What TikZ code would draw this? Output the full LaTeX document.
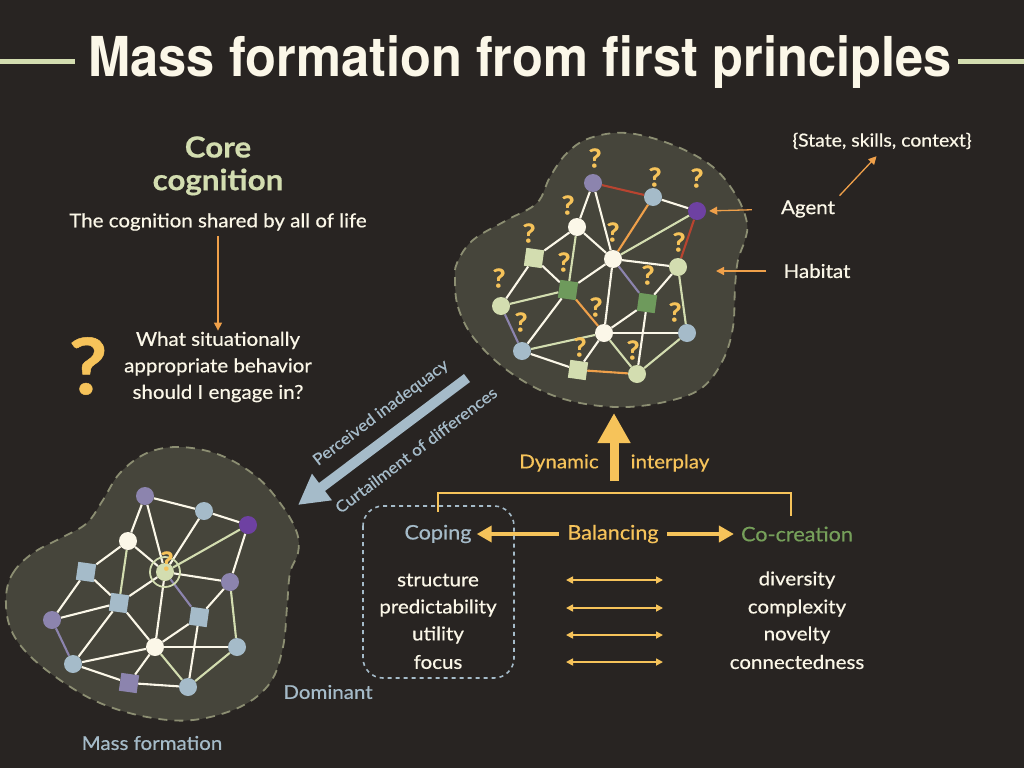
\documentclass[tikz,border=0pt]{standalone}
\usepackage{fontspec}
\setmainfont[FakeStretch=1.08, FakeBold=0.6]{Lato}
\newfontfamily\titlefont[FakeStretch=0.92]{TeX Gyre Heros}
\usetikzlibrary{arrows.meta}
\definecolor{bgdark}{HTML}{282422}
\definecolor{blobfill}{HTML}{46453B}
\definecolor{blobedge}{HTML}{8C8E72}
\definecolor{cream}{HTML}{FBF7E8}
\definecolor{sage}{HTML}{D3DDB0}
\definecolor{leaf}{HTML}{6E9A5C}
\definecolor{steel}{HTML}{A5BBC9}
\definecolor{lilac}{HTML}{8C84AE}
\definecolor{violet}{HTML}{6E41A2}
\definecolor{rust}{HTML}{B84430}
\definecolor{amber}{HTML}{EFA04A}
\definecolor{gold}{HTML}{F6C35A}
\definecolor{cocreate}{HTML}{76A05A}
\pgfdeclarelayer{back}
\pgfdeclarelayer{links}
\pgfsetlayers{back,links,main}
\tikzset{
  blob/.style={fill=blobfill, draw=blobedge, line width=1.8pt, dash pattern=on 9pt off 7pt},
  link/.style={line width=2.1pt, draw=cream},
  sagelink/.style={line width=2.1pt, draw=sage},
  rustlink/.style={line width=2.1pt, draw=rust},
  amberlink/.style={line width=2.1pt, draw=amber},
  lilaclink/.style={line width=2.1pt, draw=lilac},
  dot/.style={circle, minimum size=18pt, inner sep=0pt},
  sqnode/.style={rectangle, minimum size=18pt, inner sep=0pt, rotate=-8},
  qmark/.style={text=gold, font=\fontsize{26}{26}\selectfont\bfseries},
  txt/.style={text=cream, font=\fontsize{19}{22}\selectfont},
  pointer/.style={draw=amber, line width=1.3pt, -{Triangle[length=8pt,width=8pt]}},
  twoway/.style={draw=gold, line width=1.6pt, {Triangle[length=7pt,width=7pt]}-{Triangle[length=7pt,width=7pt]}},
  fatarrow/.style={line width=10pt, -{Triangle[length=30pt,width=31pt]}},
}

\begin{document}
\begin{tikzpicture}[x=1pt, y=-1pt, inner sep=1pt]
        % Canvas
        \begin{pgfonlayer}{back}
        \fill[bgdark] (0,0) rectangle (1024,768);
        \end{pgfonlayer}
        \useasboundingbox (0,0) rectangle (1024,768);

        % Title
        \node[text=cream, font=\titlefont\bfseries\fontsize{55}{60}\selectfont] (title) at (520,62) {Mass formation from first principles};
        \coordinate (barL1) at (0,61);
        \coordinate (barL2) at (75,61);
        \coordinate (barR1) at (958,61);
        \coordinate (barR2) at (1024,61);
        \draw[sage, line width=5pt] (barL1) -- (barL2);
        \draw[sage, line width=5pt] (barR1) -- (barR2);

        % Core cognition
        \node[text=sage, font=\fontsize{29}{30}\selectfont\bfseries] (core) at (218,147) {Core};
        \node[text=sage, font=\fontsize{29}{30}\selectfont\bfseries] (cognition) at (218,182) {cognition};
        \node[txt] (shared) at (218,222) {The cognition shared by all of life};
        \node[txt, align=center, font=\fontsize{19}{26.5}\selectfont] (question) at (218,367) {What situationally\\appropriate behavior\\should I engage in?};
        \node[text=gold, font=\fontsize{78}{80}\selectfont\bfseries] (bigq) at (88,366) {?};
        \draw[pointer] (shared.south) ++(0,4) -- (question.north);

        % Habitat blob (top right)
        \begin{pgfonlayer}{back}
        \draw[blob] plot[smooth cycle, tension=0.6] coordinates {(455,280) (458,307) (473,337) (503,367) (540,390) (580,403) (627,407) (673,400) (703,387) (723,360) (733,327) (735,287) (738,260) (745,240) (747,223) (737,197) (713,167) (673,145) (627,133) (590,138) (567,153) (550,177) (537,203) (507,220) (473,240) (457,263)};
        \end{pgfonlayer}

        % Agents (top right)
        \node[dot, fill=lilac] (tp1) at (593,183) {};
        \node[dot, fill=steel] (tb1) at (653,197) {};
        \node[dot, fill=violet] (ta) at (697,211) {};
        \node[dot, fill=cream] (tw1) at (577,227) {};
        \node[dot, fill=cream] (tw2) at (613,259) {};
        \node[dot, fill=sage] (tg1) at (678,267) {};
        \node[sqnode, fill=sage] (ts1) at (534,258) {};
        \node[sqnode, fill=leaf] (ts2) at (568,290) {};
        \node[sqnode, fill=leaf] (ts3) at (647,303) {};
        \node[dot, fill=sage] (tg2) at (501,306) {};
        \node[dot, fill=steel] (tb2) at (522,351) {};
        \node[dot, fill=cream] (tw3) at (604,333) {};
        \node[dot, fill=steel] (tb3) at (687,333) {};
        \node[sqnode, fill=sage] (ts4) at (578,370) {};
        \node[dot, fill=sage] (tg3) at (637,374) {};

        % Question marks
        \foreach \qx/\qy [count=\qi] in {595/158, 655/177, 697/178, 568/205, 613/232, 529/233, 564/262, 499/278, 679/242, 648/275, 596/307, 675/312, 521/322, 580/347, 633/350}
          \node[qmark] (tq\qi) at (\qx,\qy) {?};

        % Draw the links (top right)
        \begin{pgfonlayer}{links}
        \draw[rustlink] (tp1) -- (tb1);
        \draw[link] (tb1) -- (ta);
        \draw[link] (tp1) -- (tw1);
        \draw[link] (tp1) -- (tw2);
        \draw[amberlink] (tb1) -- (tw2);
        \draw[sagelink] (ta) -- (tw2);
        \draw[rustlink] (ta) -- (tg1);
        \draw[link] (tw1) -- (tw2);
        \draw[link] (tw1) -- (ts1);
        \draw[sagelink] (tw1) -- (ts2);
        \draw[link] (ts1) -- (ts2);
        \draw[link] (ts1) -- (tg2);
        \draw[link] (tw2) -- (ts2);
        \draw[link] (tw2) -- (tg1);
        \draw[lilaclink] (tw2) -- (ts3);
        \draw[link] (tw2) -- (tw3);
        \draw[sagelink] (ts2) -- (tg2);
        \draw[link] (ts2) -- (tb2);
        \draw[amberlink] (ts2) -- (tw3);
        \draw[link] (tg1) -- (ts3);
        \draw[sagelink] (tg1) -- (tb3);
        \draw[link] (ts3) -- (tw3);
        \draw[link] (ts3) -- (tg3);
        \draw[lilaclink] (tg2) -- (tb2);
        \draw[sagelink] (tb2) -- (tw3);
        \draw[link] (tb2) -- (ts4);
        \draw[link] (tw3) -- (ts4);
        \draw[link] (tw3) -- (tb3);
        \draw[sagelink] (tw3) -- (tg3);
        \draw[amberlink] (ts4) -- (tg3);
        \draw[sagelink] (tg3) -- (tb3);
        \end{pgfonlayer}

        % Agent and habitat labels
        \node[txt] (agent) at (808,209) {Agent};
        \node[txt] (habitat) at (817,271) {Habitat};
        \node[txt, font=\fontsize{18}{20}\selectfont] (state) at (882,141) {\{State, skills, context\}};
        \coordinate (habspot) at (716,271);
        \draw[pointer, shorten <=28pt, shorten >=3pt] (agent.west) -- (ta.east);
        \draw[pointer, shorten <=16pt] (habitat.west) -- (habspot);
        \draw[pointer, shorten <=5pt, shorten >=8pt] (agent.north east) -- (state.south);

        % Mass formation blob (bottom left)
        \begin{pgfonlayer}{back}
        \draw[blob] plot[smooth cycle, tension=0.6] coordinates {(6,597) (13,573) (33,553) (63,537) (87,523) (103,500) (120,473) (147,453) (180,447) (220,455) (257,477) (283,507) (297,533) (298,553) (290,573) (287,607) (283,647) (270,683) (240,707) (193,720) (147,717) (100,703) (60,680) (27,653) (10,627)};
        \end{pgfonlayer}

        % Agents (bottom left)
        \node[dot, fill=lilac] (bp1) at (145,496) {};
        \node[dot, fill=steel] (bb1) at (204,511) {};
        \node[dot, fill=violet] (ba) at (248,525) {};
        \node[dot, fill=cream] (bw1) at (128,541) {};
        \node[dot, fill=sage, minimum size=18pt] (bc) at (165,572) {};
        \node[circle, draw=sage, line width=1.8pt, minimum size=30pt] (ring) at (bc) {};
        \node[dot, fill=lilac] (bp2) at (230,582) {};
        \node[sqnode, fill=steel] (bs1) at (86,572) {};
        \node[sqnode, fill=steel] (bs2) at (119,603) {};
        \node[sqnode, fill=steel] (bs3) at (199,617) {};
        \node[dot, fill=lilac] (bp3) at (52,620) {};
        \node[dot, fill=steel] (bb2) at (73,664) {};
        \node[dot, fill=cream] (bw3) at (155,647) {};
        \node[dot, fill=steel] (bb3) at (237,647) {};
        \node[sqnode, fill=lilac] (bs4) at (129,683) {};
        \node[dot, fill=steel] (bb4) at (188,687) {};
        \node[qmark] (bq) at (167,561) {?};

        % Draw the links (bottom left)
        \begin{pgfonlayer}{links}
        \draw[link] (bp1) -- (bb1);
        \draw[link] (bb1) -- (ba);
        \draw[link] (bp1) -- (bw1);
        \draw[link] (bp1) -- (bc);
        \draw[link] (bb1) -- (bc);
        \draw[sagelink] (ba) -- (bc);
        \draw[link] (ba) -- (bp2);
        \draw[link] (bw1) -- (bc);
        \draw[link] (bw1) -- (bs1);
        \draw[sagelink] (bw1) -- (bs2);
        \draw[link] (bs1) -- (bs2);
        \draw[link] (bs1) -- (bp3);
        \draw[link] (bc) -- (bs2);
        \draw[link] (bc) -- (bp2);
        \draw[lilaclink] (bc) -- (bs3);
        \draw[link] (bc) -- (bw3);
        \draw[link] (bs2) -- (bp3);
        \draw[link] (bs2) -- (bb2);
        \draw[link] (bs2) -- (bw3);
        \draw[link] (bp2) -- (bs3);
        \draw[sagelink] (bp2) -- (bb3);
        \draw[link] (bs3) -- (bw3);
        \draw[link] (bs3) -- (bb4);
        \draw[lilaclink] (bp3) -- (bb2);
        \draw[link] (bb2) -- (bw3);
        \draw[link] (bb2) -- (bs4);
        \draw[link] (bw3) -- (bs4);
        \draw[link] (bw3) -- (bb3);
        \draw[sagelink] (bw3) -- (bb4);
        \draw[link] (bs4) -- (bb4);
        \draw[sagelink] (bb4) -- (bb3);
        \end{pgfonlayer}

        \node[text=steel, font=\fontsize{19}{22}\selectfont] (massform) at (152,743) {Mass formation};
        \node[text=steel, font=\fontsize{19}{22}\selectfont] (dominant) at (328,692) {Dominant};

        % Curtailment arrow
        \coordinate (curtailtail) at (467,378);
        \coordinate (curtailtip) at (298,505);
        \draw[fatarrow, steel] (curtailtail) -- (curtailtip);
        \node[text=steel, rotate=37, font=\fontsize{16}{18}\selectfont] (inadequacy) at (381,413) {Perceived inadequacy};
        \node[text=steel, rotate=37, font=\fontsize{16}{18}\selectfont] (curtail) at (416,450) {Curtailment of differences};

        % Dynamic interplay
        \coordinate (interbase) at (614,481);
        \coordinate (intertip) at (614,413);
        \draw[fatarrow, gold, line width=9pt] (interbase) -- (intertip);
        \node[text=gold, font=\fontsize{19}{22}\selectfont] (dynamic) at (559,463) {Dynamic};
        \node[text=gold, font=\fontsize{19}{22}\selectfont] (interplay) at (670,463) {interplay};

        % Balancing
        \node[text=steel, font=\fontsize{20}{22}\selectfont] (coping) at (438,534) {Coping};
        \node[text=gold, font=\fontsize{20}{22}\selectfont] (balancing) at (613,534) {Balancing};
        \node[text=cocreate, font=\fontsize{20}{22}\selectfont] (cocreation) at (797,534) {Co-creation};
        \draw[gold, line width=2pt] (438,512) -- (438,493) -- (791,493) -- (791,516);
        \draw[gold, line width=4pt, -{Triangle[length=15pt,width=16pt]}, shorten <=7pt, shorten >=4pt] (balancing.west) -- (coping.east);
        \draw[gold, line width=4pt, -{Triangle[length=15pt,width=16pt]}, shorten <=7pt, shorten >=6pt] (balancing.east) -- (cocreation.west);

        % Coping frame
        \draw[steel, line width=1.6pt, dash pattern=on 4pt off 4pt, rounded corners=20pt] (363,506) rectangle (514,678);

        % Pairs
        \foreach \lname/\rname/\yy [count=\pi] in {structure/diversity/580, predictability/complexity/608, utility/novelty/635, focus/connectedness/662}{
          \node[txt] (left\pi) at (438,\yy) {\lname};
          \node[txt] (right\pi) at (797,\yy) {\rname};
          \coordinate (pairL\pi) at (566,\yy);
          \coordinate (pairR\pi) at (663,\yy);
          \draw[twoway] (pairL\pi) -- (pairR\pi);
        }
\end{tikzpicture}
\end{document}
